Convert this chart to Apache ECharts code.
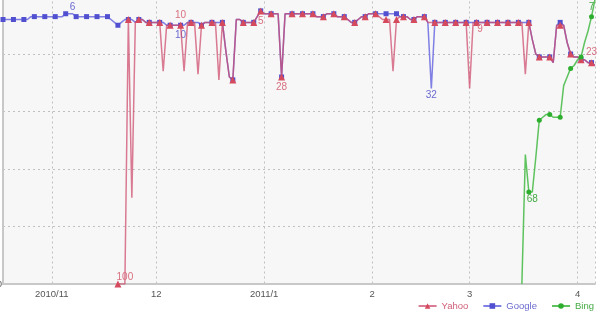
<!DOCTYPE html>
<html><head><meta charset="utf-8">
<script src="https://cdn.jsdelivr.net/npm/echarts@6/dist/echarts.min.js"></script>
<style>html,body{margin:0;padding:0;background:#fff}#c{width:600px;height:313px}</style>
</head><body><div id="c"></div>
<script>
// day 0 of the daily series = 2010-10-18
const firstDay = [2010, 9, 18];
const lastDay = 170;
const seriesNames = ['Yahoo', 'Google', 'Bing'];

const googleStart = 0;
const googleRanks = [
  8,8,8,8,8,8,8,8,7,7,
  7,7,7,7,7,7,7,7,6,6,
  6,7,7,7,7,7,7,7,7,7,
  7,8,9,10,9,8,8,8,9,8,
  8,9,9,9,9,9,9,10,10,10,
  10,10,10,9,9,9,9,10,9,9,
  9,9,9,9,19,28,29,8,8,9,
  9,9,9,7,5,6,6,6,6,6,
  28,6,6,6,6,6,6,6,6,6,
  7,7,7,6,6,6,7,7,7,8,
  9,9,8,7,7,6,6,6,6,6,
  6,6,6,6,7,7,7,8,8,7,
  7,7,9,32,9,9,9,9,9,9,
  9,9,9,9,9,9,9,9,9,9,
  9,9,9,9,9,9,9,9,9,9,
  9,9,15,20,21,21,21,21,23,10,
  9,10,16,20,21,21,22,22,23,23,
  24
];

const yahooStart = 33;
const yahooRanks = [
  100,100,100,8,70,9,8,
  8,9,9,9,9,9,26,10,10,10,
  10,10,26,9,9,9,27,10,9,9,
  9,9,29,9,19,28,29,8,8,9,
  9,9,9,7,5,6,6,6,6,6,
  28,6,6,6,6,6,6,6,6,6,
  7,7,7,6,6,6,7,7,7,8,
  9,9,8,7,7,6,6,6,7,8,
  8,8,26,8,7,7,7,8,8,7,
  7,7,9,9,9,9,9,9,9,9,
  9,9,9,9,32,9,9,9,9,9,
  9,9,9,9,9,9,9,9,9,9,
  27,9,15,20,21,21,21,21,23,10,
  10,10,16,20,21,21,22,22,23,23,
  24
];

const bingStart = 149;
const bingRanks = [100,55,68,68,56,43,42,41,41,42,42,42,31,28,25,24,22,21,16,12,7,1];

// labelled points: [day, placement]
const yahooLabels = [[35,'top'],[51,'top'],[74,'bottom'],[80,'bottom'],[137,'bottom'],[169,'top']];
const googleLabels = [[20,'top'],[51,'bottom'],[123,'bottom']];
const bingLabels = [[152,'bottom'],[169,'top']];

const yTicks = [0, 20, 40, 60, 80, 100];

function dateOf(d) { return new Date(firstDay[0], firstDay[1], firstDay[2] + d).getTime(); }
function isMarkerDay(d) {
  if (d <= 72) return d % 3 === 0;
  if (d <= 113) return d % 3 === 2;
  return d % 3 === 1;
}

function build(name, start, ranks, symbol, symSize, color, lineColor, lineOpacity, labelColor, labels, z) {
  const data = ranks.map((v, i) => {
    const d = start + i;
    const item = { value: [dateOf(d), v] };
    item.symbolSize = isMarkerDay(d) ? symSize : 0;
    const lab = labels.find(l => l[0] === d);
    if (lab) {
      item.label = { show: true, position: lab[1], distance: 2, color: labelColor,
        fontSize: 10, fontFamily: 'Liberation Sans', formatter: String(v) };
    }
    return item;
  });
  return {
    name, type: 'line', data, symbol, showAllSymbol: true, z,
    itemStyle: { color },
    lineStyle: { color: lineColor, width: 1.5, opacity: lineOpacity },
    emphasis: { disabled: true },
    animation: false
  };
}

const chart = echarts.init(document.getElementById('c'));
chart.setOption({
  animation: false,
  textStyle: { fontFamily: 'Liberation Sans' },
  grid: { left: 3, right: 5, top: -3.5, bottom: 29, show: true, backgroundColor: '#f7f7f7', borderWidth: 0,
    containLabel: false, outerBoundsMode: 'none' },
  legend: {
    right: 6, bottom: 2, padding: 0, itemWidth: 18, itemHeight: 7, itemGap: 14,
    textStyle: { fontSize: 9.5 },
    data: [
      { name: 'Yahoo', textStyle: { color: '#d0607a' } },
      { name: 'Google', textStyle: { color: '#6a6ad0' } },
      { name: 'Bing', textStyle: { color: '#44aa44' } }
    ]
  },
  xAxis: {
    type: 'time', min: dateOf(0), max: dateOf(lastDay),
    minInterval: 28 * 86400000, maxInterval: 31 * 86400000,
    axisLine: { onZero: false, lineStyle: { color: '#c8c8c8', width: 2 } },
    axisTick: { show: false },
    axisLabel: {
      color: '#555', fontSize: 9.5, margin: 5, showMinLabel: false, showMaxLabel: false,
      formatter: function (val) {
        const dt = new Date(val);
        const m = dt.getMonth() + 1;
        if (m === 1 || (dt.getFullYear() === 2010 && m === 11)) return dt.getFullYear() + '/' + m;
        return String(m);
      }
    },
    splitLine: { show: true, lineStyle: { type: [2, 3], color: '#c0c0c0', width: 1 } }
  },
  yAxis: {
    type: 'value', inverse: true, min: yTicks[0], max: yTicks[yTicks.length - 1], interval: 20,
    axisLine: { show: true, onZero: false, lineStyle: { color: '#c8c8c8', width: 2 } },
    axisTick: { show: false },
    axisLabel: { color: '#555', fontSize: 9.5, margin: 1, formatter: v => (v === 100 ? '100' : '') },
    splitLine: { show: true, lineStyle: { type: [2, 3], color: '#c0c0c0', width: 1 } }
  },
  series: [
    build('Google', googleStart, googleRanks, 'rect', 5, '#5050d0', '#6a6ae0', 0.85, '#6a6ad0', googleLabels, 2),
    build('Yahoo', yahooStart, yahooRanks, 'triangle', 7, '#d64a5e', '#cc4466', 0.7, '#d87080', yahooLabels, 3),
    build('Bing', bingStart, bingRanks, 'circle', 5, '#2eae2e', '#4cbc4c', 0.9, '#44aa44', bingLabels, 4)
  ]
});
</script></body></html>
